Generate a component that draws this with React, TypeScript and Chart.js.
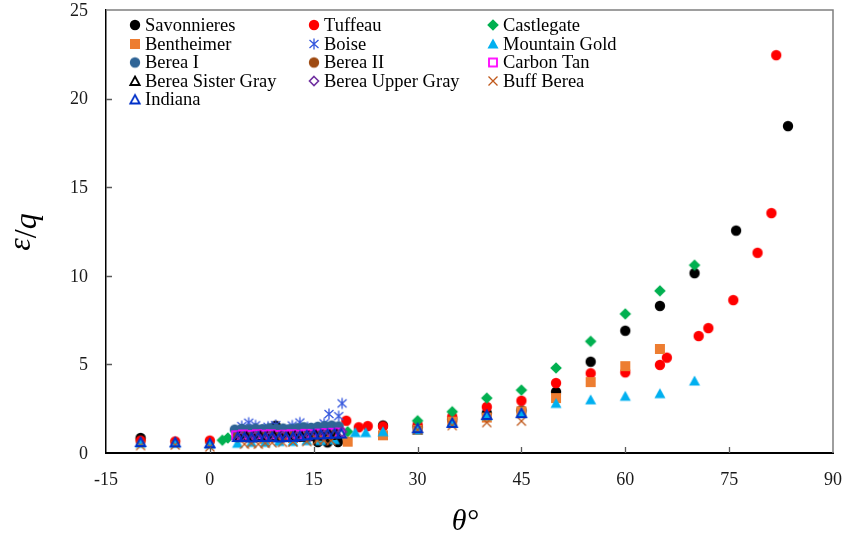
import React, { useEffect, useRef } from 'react';
import { Chart, registerables } from 'chart.js';

Chart.register(...registerables);

const xTickValues = [-15, 0, 15, 30, 45, 60, 75, 90];
const yTickValues = [0, 5, 10, 15, 20, 25];

const savonnieresX = [-10, 4, 6, 8, 9.5, 12, 15.6, 17, 18.5, 25, 30, 35, 40, 45, 50, 55, 60, 65, 70, 76, 83.5];
const savonnieresY = [0.85, 1.05, 1.1, 1.1, 1.54, 1.15, 0.62, 0.6, 0.62, 1.55, 1.45, 1.9, 2.25, 2.4, 3.45, 5.15, 6.9, 8.3, 10.15, 12.55, 18.45];

const tuffeauX = [-10, -5, 0, 19.7, 21.5, 22.8, 25, 30, 35, 40, 45, 50, 55, 60, 65, 66, 70.6, 72, 75.6, 79.1, 81.1, 81.8];
const tuffeauY = [0.7, 0.65, 0.7, 1.82, 1.45, 1.52, 1.5, 1.6, 2.05, 2.6, 2.95, 3.95, 4.5, 4.55, 4.97, 5.38, 6.6, 7.05, 8.63, 11.3, 13.54, 22.45];

const castlegateX = [1.8, 2.6, 4, 6, 8, 10, 12, 13.3, 15, 17, 19.9, 30, 35, 40, 45, 50, 55, 60, 65, 70];
const castlegateY = [0.72, 0.85, 1.2, 1.25, 1.3, 1.3, 1.35, 1.4, 1.35, 1.4, 1.2, 1.82, 2.33, 3.1, 3.55, 4.8, 6.3, 7.85, 9.15, 10.6];

const bentheimerX = [8, 12, 16, 19.9, 25, 30, 35, 40, 45, 50, 55, 60, 65];
const bentheimerY = [0.8, 0.85, 0.8, 0.64, 1.0, 1.3, 1.77, 2.0, 2.35, 3.1, 4.0, 4.9, 5.87];

const boiseX = [4.2, 4.6, 5.2, 5.6, 6.6, 7.2, 8.0, 8.4, 9.5, 10.4, 11.2, 11.9, 12.5, 13.0, 14.1, 14.8, 15.6, 16.5, 17.2, 17.8, 18.6, 19.1];
const boiseY = [1.15, 1.52, 1.2, 1.71, 1.56, 1.25, 1.2, 1.48, 1.58, 1.25, 1.3, 1.55, 1.2, 1.72, 1.46, 1.3, 1.25, 1.67, 2.2, 1.45, 2.08, 2.8];

const mountainGoldX = [-10, -5, 0, 4, 6, 8, 10, 12, 14, 16, 18, 21, 22.5, 25, 30, 35, 40, 45, 50, 55, 60, 65, 70];
const mountainGoldY = [0.55, 0.55, 0.5, 0.55, 0.6, 0.6, 0.65, 0.65, 0.7, 0.7, 0.75, 1.15, 1.15, 1.2, 1.3, 1.7, 2.1, 2.25, 2.8, 3.0, 3.2, 3.35, 4.06];

const bereaIX = [3.6, 4.6, 5.6, 6.6, 7.6, 8.6, 9.6, 10.6, 11.6, 12.6, 13.6, 14.6, 15.6, 16.6, 17.6, 18.6];
const bereaIY = [1.32, 1.36, 1.34, 1.38, 1.35, 1.4, 1.36, 1.38, 1.35, 1.4, 1.45, 1.42, 1.48, 1.52, 1.55, 1.5];

const bereaIIX = [4, 5, 6, 7, 8, 9, 10, 11, 12, 13, 14, 15, 16, 17, 18];
const bereaIIY = [0.9, 0.92, 0.88, 0.9, 0.92, 0.95, 0.9, 0.92, 0.95, 0.92, 0.95, 0.98, 1.0, 1.02, 1.05];

const carbonTanX = [3.8, 4.8, 5.8, 6.8, 7.8, 8.8, 9.8, 10.8, 11.8, 12.8, 13.8, 14.8, 15.8, 16.8, 17.8, 18.8];
const carbonTanY = [1.0, 1.05, 1.02, 1.06, 1.04, 1.06, 1.02, 1.04, 1.06, 1.04, 1.08, 1.06, 1.1, 1.12, 1.14, 1.15];

const sisterGrayX = [4.3, 5.3, 6.3, 7.3, 8.3, 9.3, 10.3, 11.3, 12.3, 13.3, 14.3, 15.3, 16.3, 17.3, 18.3];
const sisterGrayY = [0.9, 0.92, 0.9, 0.95, 0.92, 0.95, 0.92, 0.9, 0.95, 0.92, 0.95, 1.0, 1.0, 1.02, 1.05];

const upperGrayX = [4.5, 6.5, 8.5, 10.5, 12.5, 14.5, 16.5, 19.1];
const upperGrayY = [0.9, 0.92, 0.9, 0.95, 0.92, 0.95, 1.0, 1.2];

const buffBereaX = [-10, -5, 0, 5, 6, 7, 8, 9, 10.5, 12, 14, 15.5, 16.5, 17.5, 30, 35, 40, 45];
const buffBereaY = [0.42, 0.45, 0.35, 0.5, 0.55, 0.5, 0.55, 0.58, 0.6, 0.62, 0.65, 0.72, 0.72, 0.7, 1.3, 1.55, 1.72, 1.8];

const indianaX = [-10, -5, 0, 4, 5, 6, 7, 8, 9, 10, 11, 12, 13, 14, 15, 16, 17, 18, 19, 30, 35, 40, 45];
const indianaY = [0.62, 0.6, 0.55, 0.9, 0.9, 0.88, 0.92, 0.9, 0.92, 0.88, 0.9, 0.92, 0.95, 1.0, 1.05, 1.05, 1.08, 1.1, 1.1, 1.4, 1.7, 2.15, 2.25];

type Kind = 'circle' | 'square' | 'diamond' | 'triangle' | 'star' | 'hsquare' | 'htriangle' | 'hdiamond' | 'cross';

const seriesNames = ['Savonnieres', 'Tuffeau', 'Castlegate', 'Bentheimer', 'Boise', 'Mountain Gold', 'Berea I', 'Berea II', 'Carbon Tan', 'Berea Sister Gray', 'Berea Upper Gray', 'Buff Berea', 'Indiana'];
const seriesX = [savonnieresX, tuffeauX, castlegateX, bentheimerX, boiseX, mountainGoldX, bereaIX, bereaIIX, carbonTanX, sisterGrayX, upperGrayX, buffBereaX, indianaX];
const seriesY = [savonnieresY, tuffeauY, castlegateY, bentheimerY, boiseY, mountainGoldY, bereaIY, bereaIIY, carbonTanY, sisterGrayY, upperGrayY, buffBereaY, indianaY];
const seriesKinds: Kind[] = ['circle', 'circle', 'diamond', 'square', 'star', 'triangle', 'circle', 'circle', 'hsquare', 'htriangle', 'hdiamond', 'cross', 'htriangle'];
const seriesColors = ['#000000', '#FF0000', '#00B050', '#ED7D31', '#3355DD', '#00B0F0', '#2F6496', '#9E4A12', '#FF00FF', '#000000', '#7030A0', '#C0581A', '#0030C8'];

const SERIF = "'Liberation Serif', 'Times New Roman', serif";

function makeMarker(kind: Kind, color: string): HTMLCanvasElement {
  const s = 16;
  const c = document.createElement('canvas');
  c.width = s;
  c.height = s;
  const ctx = c.getContext('2d')!;
  const m = s / 2;
  ctx.fillStyle = color;
  ctx.strokeStyle = color;
  switch (kind) {
    case 'circle':
      ctx.beginPath();
      ctx.arc(m, m, 5.2, 0, Math.PI * 2);
      ctx.fill();
      break;
    case 'square':
      ctx.fillRect(m - 5, m - 5, 10, 10);
      break;
    case 'diamond':
      ctx.beginPath();
      ctx.moveTo(m, m - 5.8);
      ctx.lineTo(m + 5.8, m);
      ctx.lineTo(m, m + 5.8);
      ctx.lineTo(m - 5.8, m);
      ctx.closePath();
      ctx.fill();
      break;
    case 'triangle':
      ctx.beginPath();
      ctx.moveTo(m, m - 5.5);
      ctx.lineTo(m + 5.5, m + 4.5);
      ctx.lineTo(m - 5.5, m + 4.5);
      ctx.closePath();
      ctx.fill();
      break;
    case 'htriangle':
      ctx.lineWidth = 1.8;
      ctx.beginPath();
      ctx.moveTo(m, m - 4.5);
      ctx.lineTo(m + 4.7, m + 4);
      ctx.lineTo(m - 4.7, m + 4);
      ctx.closePath();
      ctx.stroke();
      break;
    case 'hsquare':
      ctx.lineWidth = 1.8;
      ctx.strokeRect(m - 4, m - 4, 8, 8);
      break;
    case 'hdiamond':
      ctx.lineWidth = 1.6;
      ctx.beginPath();
      ctx.moveTo(m, m - 4.5);
      ctx.lineTo(m + 4.5, m);
      ctx.lineTo(m, m + 4.5);
      ctx.lineTo(m - 4.5, m);
      ctx.closePath();
      ctx.stroke();
      break;
    case 'cross':
      ctx.lineWidth = 1.3;
      ctx.beginPath();
      ctx.moveTo(m - 4.5, m - 4.5);
      ctx.lineTo(m + 4.5, m + 4.5);
      ctx.moveTo(m + 4.5, m - 4.5);
      ctx.lineTo(m - 4.5, m + 4.5);
      ctx.stroke();
      break;
    case 'star':
      ctx.lineWidth = 1.3;
      ctx.beginPath();
      ctx.moveTo(m - 4.5, m - 4);
      ctx.lineTo(m + 4.5, m + 4);
      ctx.moveTo(m + 4.5, m - 4);
      ctx.lineTo(m - 4.5, m + 4);
      ctx.moveTo(m, m - 5.5);
      ctx.lineTo(m, m + 5.5);
      ctx.stroke();
      break;
  }
  return c;
}

export default function App() {
  const ref = useRef<HTMLCanvasElement>(null);

  useEffect(() => {
    const markers = seriesKinds.map((k, i) => makeMarker(k, seriesColors[i]));
    const n = seriesNames.length;

    const overlay = {
      id: 'overlay',
      afterDraw(chart: any) {
        const { ctx, chartArea } = chart;
        const { left, right, top, bottom } = chartArea;
        const xs = chart.scales.x;
        const ys = chart.scales.y;
        ctx.save();
        // frame
        ctx.strokeStyle = '#7F7F7F';
        ctx.lineWidth = 1.5;
        ctx.beginPath();
        ctx.moveTo(left, top);
        ctx.lineTo(right, top);
        ctx.lineTo(right, bottom);
        ctx.stroke();
        // inner ticks
        ctx.strokeStyle = '#595959';
        ctx.lineWidth = 1.3;
        ctx.beginPath();
        for (const v of xTickValues.slice(1, -1)) {
          const px = Math.round(xs.getPixelForValue(v)) + 0.5;
          ctx.moveTo(px, bottom);
          ctx.lineTo(px, bottom - 6);
        }
        for (const v of yTickValues.slice(1, -1)) {
          const py = Math.round(ys.getPixelForValue(v)) + 0.5;
          ctx.moveTo(left, py);
          ctx.lineTo(left + 6, py);
        }
        ctx.stroke();

        // tick labels
        ctx.fillStyle = '#1a1a1a';
        ctx.font = `18px ${SERIF}`;
        ctx.textBaseline = 'middle';
        ctx.textAlign = 'center';
        for (const v of xTickValues) {
          ctx.fillText(String(v), xs.getPixelForValue(v), bottom + 27);
        }
        ctx.textAlign = 'right';
        for (const v of yTickValues) {
          ctx.fillText(String(v), left - 18, ys.getPixelForValue(v) + 1);
        }

        // legend
        const colX = [135, 314, 493];
        const rowY = [25, 44, 62.5, 81, 99.5];
        ctx.font = `18.5px ${SERIF}`;
        ctx.fillStyle = '#000';
        ctx.textBaseline = 'middle';
        ctx.textAlign = 'left';
        for (let i = 0; i < n; i++) {
          const col = i % 3;
          const row = Math.floor(i / 3);
          const mk = markers[i];
          ctx.drawImage(mk, colX[col] - mk.width / 2, rowY[row] - mk.height / 2);
          ctx.fillText(seriesNames[i], colX[col] + 10, rowY[row] + 1);
        }

        // x title
        ctx.fillStyle = '#000';
        ctx.textBaseline = 'alphabetic';
        ctx.textAlign = 'left';
        ctx.font = `italic 30px ${SERIF}`;
        const theta = 'θ';
        const tw = ctx.measureText(theta).width;
        ctx.font = `30px ${SERIF}`;
        const dw = ctx.measureText('°').width;
        const cx = 465;
        const startX = cx - (tw + dw) / 2;
        ctx.font = `italic 30px ${SERIF}`;
        ctx.fillText(theta, startX, 530);
        ctx.font = `30px ${SERIF}`;
        ctx.fillText('°', startX + tw + 1, 530);

        // y title
        ctx.save();
        ctx.translate(36, 232);
        ctx.rotate(-Math.PI / 2);
        ctx.font = `italic 32px ${SERIF}`;
        const ew = ctx.measureText('ε').width;
        const qw = ctx.measureText('q').width;
        ctx.font = `32px ${SERIF}`;
        const sw = ctx.measureText('/').width;
        const total = ew + sw + qw;
        let px0 = -total / 2;
        ctx.font = `italic 32px ${SERIF}`;
        ctx.fillText('ε', px0, -6);
        px0 += ew;
        ctx.font = `32px ${SERIF}`;
        ctx.fillText('/', px0, 0);
        px0 += sw;
        ctx.font = `italic 32px ${SERIF}`;
        ctx.fillText('q', px0, 0);
        ctx.restore();

        ctx.restore();
      },
    };

    const chart = new Chart(ref.current!, {
      type: 'scatter',
      data: {
        datasets: seriesNames.map((name, i) => ({
          label: name,
          data: seriesX[i].map((x, j) => ({ x, y: seriesY[i][j] })),
          pointStyle: markers[i] as any,
          pointRadius: 5,
          pointHoverRadius: 5,
          showLine: false,
          order: n - i,
          clip: false as any,
        })),
      },
      options: {
        animation: false,
        responsive: false,
        maintainAspectRatio: false,
        events: [],
        layout: { padding: { top: 10, right: 16, left: 0, bottom: 0 } },
        plugins: {
          legend: { display: false },
          tooltip: { enabled: false },
        },
        scales: {
          x: {
            type: 'linear',
            min: -15,
            max: 90,
            afterBuildTicks: (sc: any) => {
              sc.ticks = xTickValues.map((v) => ({ value: v }));
            },
            afterFit: (sc: any) => {
              sc.height = 87;
              sc.paddingLeft = 0;
              sc.paddingRight = 0;
            },
            ticks: { display: false, padding: 0 },
            grid: { display: false, drawTicks: false },
            border: { display: true, color: '#000', width: 2 },
          },
          y: {
            type: 'linear',
            min: 0,
            max: 25,
            afterBuildTicks: (sc: any) => {
              sc.ticks = yTickValues.map((v) => ({ value: v }));
            },
            afterFit: (sc: any) => {
              sc.width = 106;
              sc.paddingTop = 0;
              sc.paddingBottom = 0;
            },
            ticks: { display: false, padding: 0 },
            grid: { display: false, drawTicks: false },
            border: { display: true, color: '#000', width: 1.5 },
          },
        },
      },
      plugins: [overlay],
    });
    return () => chart.destroy();
  }, []);

  return (
    <div style={{ position: 'absolute', left: 0, top: 0, width: 849, height: 540, background: '#fff' }}>
      <canvas ref={ref} width={849} height={540} style={{ width: 849, height: 540, display: 'block' }} />
    </div>
  );
}
